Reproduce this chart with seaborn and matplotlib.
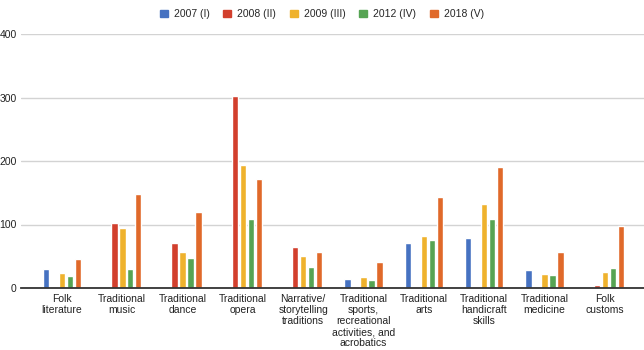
import numpy as np
import pandas as pd
import matplotlib
matplotlib.use("Agg")
import matplotlib.pyplot as plt
import seaborn as sns
from matplotlib.patches import Patch

categories = ["Folk\nliterature", "Traditional\nmusic", "Traditional\ndance", "Traditional\nopera",
              "Narrative/\nstorytelling\ntraditions",
              "Traditional\nsports,\nrecreational\nactivities, and\nacrobatics",
              "Traditional\narts", "Traditional\nhandicraft\nskills", "Traditional\nmedicine", "Folk\ncustoms"]
series = ["2007 (I)", "2008 (II)", "2009 (III)", "2012 (IV)", "2018 (V)"]
v2007 = [30, None, None, None, None, 14, 71, 78, 28, None]
v2008 = [None, 102, 71, 302, 65, None, None, None, None, 4]
v2009 = [24, 95, 56, 194, 50, 17, 82, 132, 22, 25]
v2012 = [19, 30, 48, 108, 33, 12, 75, 108, 20, 31]
v2018 = [45, 148, 119, 172, 56, 41, 144, 190, 56, 97]
colors = ["#4672c1", "#d23f2d", "#efb22d", "#56a453", "#e0692a"]
yticks = [0, 100, 200, 300, 400]

rows = []
for s, vals in zip(series, [v2007, v2008, v2009, v2012, v2018]):
    for c, v in zip(categories, vals):
        rows.append({"category": c, "series": s, "value": np.nan if v is None else v})
df = pd.DataFrame(rows)

sns.set_theme(style="white")
plt.rcParams["font.family"] = ["Liberation Sans", "DejaVu Sans"]

FS = 7.5
fig = plt.figure(figsize=(6.44, 3.5), dpi=100)
ax = fig.add_axes([21/644, 62/350, 623/644, 254/350])
sns.barplot(data=df, x="category", y="value", hue="series", order=categories,
            hue_order=series, palette=colors, width=0.66, gap=0.2,
            errorbar=None, ax=ax, legend=False, saturation=1)

ax.set_xlim(-0.68, 9.65)
ax.set_ylim(0, 400)
ax.set_yticks(yticks)
ax.set_yticklabels([str(t) for t in yticks])
ax.set_xlabel("")
ax.set_ylabel("")
ax.grid(axis="y", color="#d3d3d3", linewidth=1.0)
ax.set_axisbelow(True)
for sp in ["top", "right", "left"]:
    ax.spines[sp].set_visible(False)
ax.spines["bottom"].set_color("#333333")
ax.spines["bottom"].set_linewidth(1.3)
ax.spines["bottom"].set_zorder(5)
ax.tick_params(axis="both", length=0, labelsize=FS, colors="#222222")
ax.tick_params(axis="x", pad=4)
ax.tick_params(axis="y", pad=3)
for lab in ax.get_xticklabels():
    lab.set_linespacing(1.15)

handles = [Patch(facecolor=c, edgecolor=c) for c in colors]
fig.legend(handles, series, loc="upper center", bbox_to_anchor=(0.5, 0.995), ncol=5,
           frameon=False, fontsize=FS, handlelength=0.75, handleheight=0.75,
           handletextpad=0.6, columnspacing=1.3, borderaxespad=0.3)

fig.savefig("out.png", dpi=100)
